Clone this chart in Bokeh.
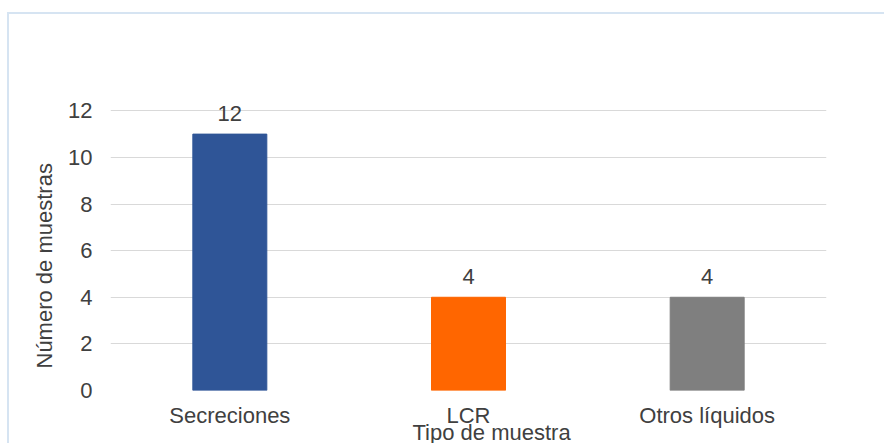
from bokeh.plotting import figure
from bokeh.models import ColumnDataSource, FactorRange, Range1d, FixedTicker, LabelSet, Title
from bokeh.core.properties import value
from bokeh.embed import file_html
from bokeh.resources import INLINE

categories = ["Secreciones", "LCR", "Otros líquidos"]
values = [11, 4, 4]
value_labels = ["12", "4", "4"]
colors = ["#2F5597", "#FF6600", "#7F7F7F"]
y_ticks = [0, 2, 4, 6, 8, 10, 12]
y_title = "Número de muestras"
x_title = "Tipo de muestra"

FONT = "Liberation Sans"
TXT = "#404040"
FS = "22px"

src = ColumnDataSource(dict(cat=categories, val=values, lab=value_labels, col=colors))

p = figure(width=877, height=433, x_range=FactorRange(*categories), y_range=Range1d(0, 13),
           output_backend="svg", toolbar_location=None,
           min_border_left=101, min_border_right=60, min_border_top=73, min_border_bottom=57,
           styles={"margin-left": "7px", "margin-top": "12px",
                   "border-left": "2px solid #D6E4F2", "border-top": "2px solid #D6E4F2"})
p.outline_line_color = None
p.background_fill_color = "white"
p.border_fill_color = "white"

p.vbar(x="cat", top="val", width=0.31, color="col", source=src)

labels = LabelSet(x="cat", y="val", text="lab", source=src, text_align="center",
                  text_baseline="alphabetic", y_offset=13, text_font=value(FONT),
                  text_font_size=value(FS), text_color=TXT)
p.add_layout(labels)

p.xgrid.grid_line_color = None
p.ygrid.grid_line_color = "#D9D9D9"
p.ygrid.grid_line_width = 1
p.yaxis.ticker = FixedTicker(ticks=y_ticks)

for ax in (p.xaxis[0], p.yaxis[0]):
    ax.axis_line_color = None
    ax.major_tick_line_color = None
    ax.minor_tick_line_color = None
    ax.major_tick_out = 0
    ax.major_tick_in = 0
    ax.minor_tick_out = 0
    ax.minor_tick_in = 0
    ax.major_label_text_font = FONT
    ax.major_label_text_font_size = FS
    ax.major_label_text_color = TXT

p.yaxis.major_label_standoff = 18
p.xaxis.major_label_standoff = 12

yt = Title(text=y_title, align="left", offset=22, vertical_align="bottom", standoff=18,
           text_font=FONT, text_font_size=FS, text_color=TXT, text_font_style="normal")
p.add_layout(yt, "left")

xt = Title(text=x_title, align="left", offset=302, vertical_align="top", standoff=-22,
           text_font=FONT, text_font_size=FS, text_color=TXT, text_font_style="normal")
p.add_layout(xt, "below")

open("out.html", "w").write(file_html(p, INLINE))
